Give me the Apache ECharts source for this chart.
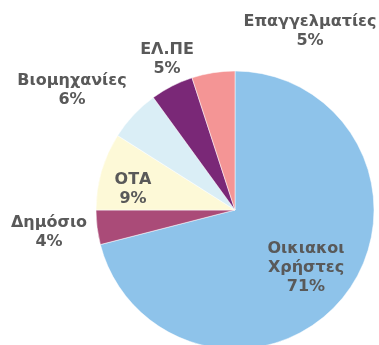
<!DOCTYPE html>
<html>
<head>
<meta charset="utf-8">
<script src="https://cdn.jsdelivr.net/npm/echarts@6/dist/echarts.min.js"></script>
<style>
html, body { margin: 0; padding: 0; background: #fff; }
#chart { width: 379px; height: 345px; }
</style>
</head>
<body>
<div id="chart"></div>
<script>
// Share of consumption by customer category (%), clockwise from 12 o'clock
const categories = ['Οικιακοι\nΧρήστες', 'Δημόσιο', 'ΟΤΑ', 'Βιομηχανίες', 'ΕΛ.ΠΕ', 'Επαγγελματίες'];
const shares = [71, 4, 9, 6, 5, 5];
const colors = ['#8EC3EA', '#AA4B78', '#FDF9D7', '#DAEEF6', '#7A2877', '#F49595'];
// Label anchor points for each category (label text block centres)
const labelAnchors = [[306, 268], [49, 232], [133, 189], [72, 90], [167, 59], [310, 31]];

const chart = echarts.init(document.getElementById('chart'));
chart.setOption({
  animation: false,
  series: [{
    type: 'pie',
    center: [235, 210],
    radius: 139,
    startAngle: 90,
    clockwise: true,
    data: categories.map((name, i) => ({
      name: name,
      value: shares[i],
      itemStyle: { color: colors[i] }
    })),
    itemStyle: { borderColor: '#ffffff', borderWidth: 0.5 },
    label: {
      show: true,
      position: 'inside',
      formatter: p => p.name + '\n' + p.value + '%',
      fontFamily: 'DejaVu Sans',
      fontWeight: 'bold',
      fontSize: 16,
      lineHeight: 19,
      color: '#595959',
      align: 'center'
    },
    labelLine: { show: false },
    labelLayout: params => {
      const a = labelAnchors[params.dataIndex];
      return { x: a[0], y: a[1], align: 'center', verticalAlign: 'middle' };
    }
  }]
});
</script>
</body>
</html>
